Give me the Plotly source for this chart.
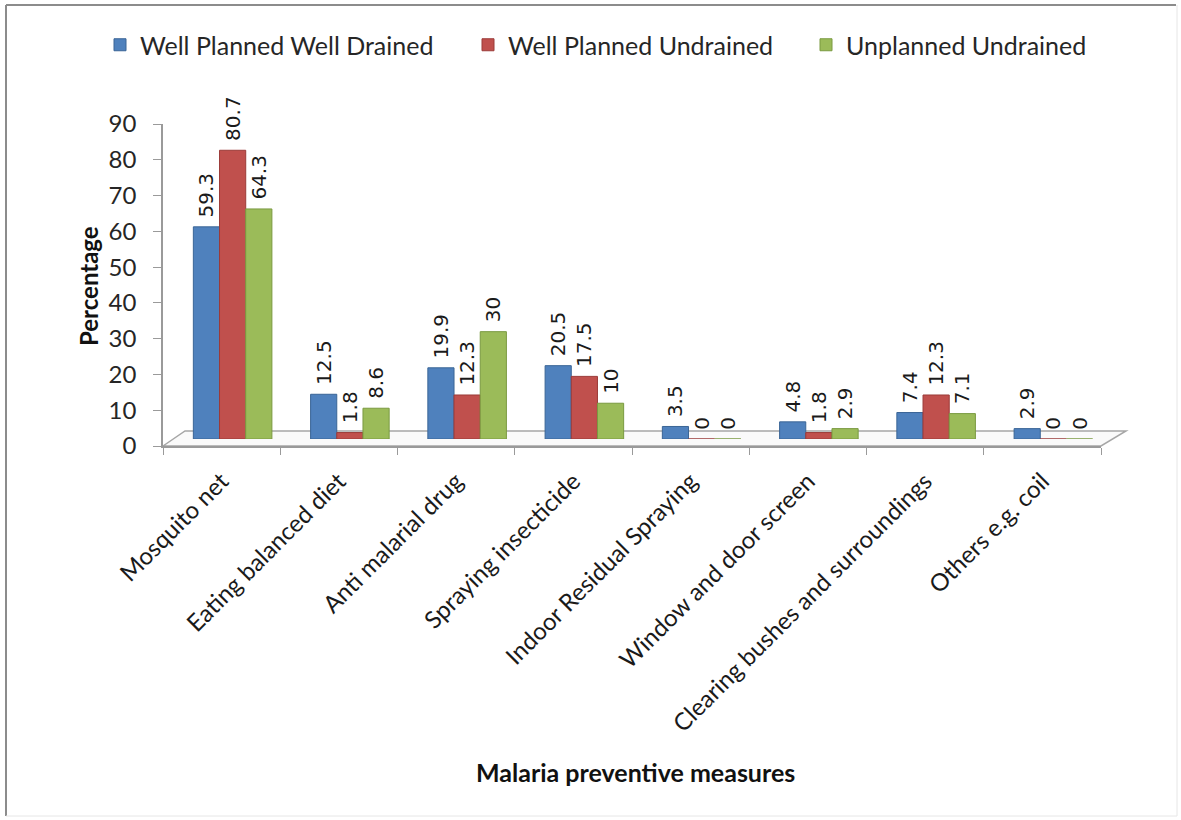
import plotly.graph_objects as go

# ---- data ----
categories = [
    "Mosquito net",
    "Eating balanced diet",
    "Anti malarial drug",
    "Spraying insecticide",
    "Indoor Residual Spraying",
    "Window and door screen",
    "Clearing bushes and surroundings",
    "Others e.g. coil",
]
well_planned_well_drained = [59.3, 12.5, 19.9, 20.5, 3.5, 4.8, 7.4, 2.9]
well_planned_undrained = [80.7, 1.8, 12.3, 17.5, 0, 1.8, 12.3, 0]
unplanned_undrained = [64.3, 8.6, 30, 10, 0, 2.9, 7.1, 0]
series_names = ["Well Planned Well Drained", "Well Planned Undrained", "Unplanned Undrained"]
y_ticks = [0, 10, 20, 30, 40, 50, 60, 70, 80, 90]

# ---- layout geometry (pixels) ----
W, H = 1181, 820
PL, PR, PT, PB = 163, 1112, 117, 446          # plot area box
FRONT_W = 938                                  # width of the front category axis
DX, DY = 11, 7                                 # depth offset of the bars behind the axes
PW, PH = PR - PL, PB - PT


def px(x):
    return (x - PL) / PW


def py(y):
    return (PB - y) / PH


colors = ["#4F81BD", "#C0504D", "#9BBB59"]
edges = ["#3A6596", "#9B3B38", "#7A9A40"]
series = [well_planned_well_drained, well_planned_undrained, unplanned_undrained]
legend_left = [100, 468, 806]
LABEL_FONT = "Lato, 'Open Sans', sans-serif"

fig = go.Figure()

# invisible trace so the front axis carries the category ticks
fig.add_trace(go.Scatter(
    x=categories, y=[0] * len(categories), mode="markers",
    marker=dict(opacity=0), showlegend=False, hoverinfo="skip",
    xaxis="x", yaxis="y",
))

for i, (name, vals) in enumerate(zip(series_names, series)):
    fig.add_trace(go.Bar(
        name=name, x=categories, y=vals,
        marker=dict(color=colors[i], line=dict(color=edges[i], width=1)),
        texttemplate="\u00a0%{y}", textposition="outside", textangle=-90,
        textfont=dict(family="DejaVu Sans", size=20, color="#1a1a1a"),
        constraintext="none", cliponaxis=False,
        xaxis="x2", yaxis="y2",
        legend="legend" if i == 0 else f"legend{i + 1}",
    ))

axis_grey = "#9a9a9a"

legend_common = dict(
    orientation="h", yanchor="middle", xanchor="left",
    font=dict(family=LABEL_FONT, size=25, color="#262626"),
    bgcolor="rgba(0,0,0,0)", itemwidth=30,
)

layout_legends = {}
for i, lx in enumerate(legend_left):
    key = "legend" if i == 0 else f"legend{i + 1}"
    layout_legends[key] = dict(legend_common, x=px(lx), y=py(45))

fig.update_layout(
    width=W, height=H,
    margin=dict(l=PL, r=W - PR, t=PT, b=H - PB, pad=0),
    paper_bgcolor="white", plot_bgcolor="rgba(0,0,0,0)",
    barmode="group", bargap=0.33, bargroupgap=0,
    showlegend=True,
    xaxis=dict(
        domain=[0, FRONT_W / PW], type="category", range=[-0.5, 7.5],
        tickson="boundaries", ticks="outside", ticklen=7, tickcolor=axis_grey,
        showline=True, linecolor=axis_grey, linewidth=1.5,
        showgrid=False, zeroline=False, tickangle=-45,
        tickfont=dict(family=LABEL_FONT, size=24, color="#1a1a1a"),
        ticklabelstandoff=10,
    ),
    yaxis=dict(
        domain=[0, (PB - 124) / PH], range=[0, 90], tickvals=y_ticks,
        ticks="outside", ticklen=8, tickcolor=axis_grey,
        showline=True, linecolor=axis_grey, linewidth=1.5,
        showgrid=False, zeroline=False,
        tickfont=dict(family=LABEL_FONT, size=24, color="#262626"),
        ticklabelstandoff=12,
    ),
    xaxis2=dict(
        domain=[DX / PW, (FRONT_W + DX) / PW], type="category", range=[-0.5, 7.5],
        visible=False, anchor="y2",
    ),
    yaxis2=dict(
        domain=[DY / PH, (PB - 124 + DY) / PH], range=[0, 90],
        visible=False, anchor="x2",
    ),
    **layout_legends,
)

# floor of the chart, drawn behind the bars
floor = [(163, 446), (185, 431), (1126, 431), (1101, 446)]
path = "M " + " L ".join(f"{px(x):.5f},{py(y):.5f}" for x, y in floor) + " Z"
fig.add_shape(type="path", path=path, xref="paper", yref="paper",
              fillcolor="#fafafa", line=dict(color="#a6a6a6", width=1.5), layer="below")

# outer frame of the chart
fig.add_shape(type="line", xref="paper", yref="paper",
              x0=px(6), y0=py(5), x1=px(1176), y1=py(5), line=dict(color="#8c8c8c", width=2))
fig.add_shape(type="line", xref="paper", yref="paper",
              x0=px(6), y0=py(5), x1=px(6), y1=py(816), line=dict(color="#8c8c8c", width=2))
fig.add_shape(type="line", xref="paper", yref="paper",
              x0=px(1177), y0=py(5), x1=px(1177), y1=py(816), line=dict(color="#e6e6e6", width=1))
fig.add_shape(type="line", xref="paper", yref="paper",
              x0=px(6), y0=py(816), x1=px(1177), y1=py(816), line=dict(color="#e6e6e6", width=1))

# axis titles
fig.add_annotation(text="<b>Percentage</b>", xref="paper", yref="paper",
                   x=px(88), y=py(286), xanchor="center", yanchor="middle",
                   textangle=-90, showarrow=False,
                   font=dict(family=LABEL_FONT, size=24, color="#111111"))
fig.add_annotation(text="<b>Malaria preventive measures</b>", xref="paper", yref="paper",
                   x=px(635), y=py(772), xanchor="center", yanchor="middle", showarrow=False,
                   font=dict(family=LABEL_FONT, size=25, color="#111111"))

fig.write_html("out.html")
